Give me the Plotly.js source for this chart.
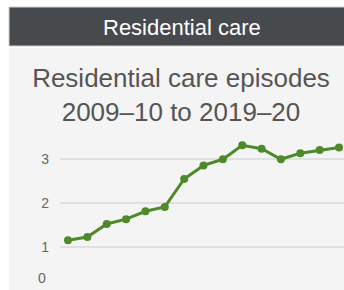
<!DOCTYPE html>
<html>
<head>
<meta charset="utf-8">
<script src="https://cdn.plot.ly/plotly-3.0.1.min.js"></script>
<style>html,body{margin:0;padding:0;background:#fff;}#chart{width:344px;height:290px;}</style>
</head>
<body>
<div id="chart"></div>
<script>
// Data
const periods = [1, 2, 3, 4, 5, 6, 7, 8, 9, 10, 11, 12, 13, 14, 15];
const episodes = [1.15, 1.22, 1.52, 1.63, 1.81, 1.91, 2.55, 2.86, 3.0, 3.32, 3.24, 3.0, 3.14, 3.21, 3.27];
const yTicks = [1, 2, 3];
const yTickText = ['1', '2', '3'];
const headerText = 'Residential care';
const titleText = 'Residential care episodes<br>2009–10 to 2019–20';

const FONT = 'Arial, "Liberation Sans", sans-serif';
const W = 344, H = 290, ML = 60, MT = 130;
const pw = W - ML, ph = H - MT;
const px = v => (v - ML) / pw;          // pixel x -> paper x
const py = v => (H - v) / ph;           // pixel y -> paper y

const trace = {
  x: periods,
  y: episodes,
  type: 'scatter',
  mode: 'lines+markers',
  line: {color: '#4e8a2a', width: 3},
  marker: {color: '#4e8a2a', size: 8},
  hoverinfo: 'skip'
};

const layout = {
  width: W, height: H,
  margin: {l: ML, r: 0, t: MT, b: 0, pad: 0},
  paper_bgcolor: '#ffffff',
  plot_bgcolor: 'rgba(0,0,0,0)',
  showlegend: false,
  font: {family: FONT, color: '#666'},
  title: {
    text: titleText,
    font: {family: FONT, size: 26, color: '#555'},
    x: 181 / W, xanchor: 'center', xref: 'container',
    y: 1 - 87 / H, yanchor: 'middle', yref: 'container'
  },
  xaxis: {
    range: [1 - (68 - ML) / 19.36, 1 + (W - 68) / 19.36],
    showgrid: false, zeroline: false, showticklabels: false, showline: false, ticks: ''
  },
  yaxis: {
    range: [0.01, 3.67],
    tickmode: 'array', tickvals: yTicks, ticktext: yTickText,
    showgrid: true, gridcolor: '#e0e0e0', gridwidth: 2,
    zeroline: false, showline: false, ticks: '',
    ticklabelstandoff: 10,
    tickfont: {family: FONT, size: 14, color: '#666'}
  },
  shapes: [
    {type: 'rect', xref: 'paper', yref: 'paper', layer: 'below',
     x0: px(9), x1: 1, y0: 0, y1: py(48),
     fillcolor: '#f4f4f4', line: {width: 0}},
    {type: 'rect', xref: 'paper', yref: 'paper', layer: 'below',
     x0: px(9), x1: 1.01, y0: py(46), y1: py(7),
     fillcolor: '#464a4d', line: {color: '#cfcfcf', width: 1}}
  ],
  annotations: [
    {text: headerText, xref: 'paper', yref: 'paper', x: px(182), y: py(27),
     xanchor: 'center', yanchor: 'middle', showarrow: false,
     font: {family: FONT, size: 22, color: '#ffffff'}},
    {text: '0', xref: 'paper', yref: 'paper', x: px(48), y: py(278),
     xanchor: 'right', yanchor: 'middle', showarrow: false,
     font: {family: FONT, size: 14, color: '#666'}}
  ]
};

Plotly.newPlot('chart', [trace], layout, {staticPlot: true, displayModeBar: false});
</script>
</body>
</html>
